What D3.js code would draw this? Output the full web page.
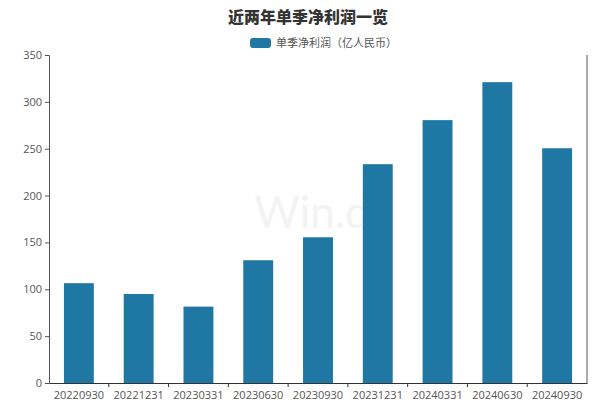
<!DOCTYPE html>
<html><head><meta charset="utf-8">
<script src="https://cdn.jsdelivr.net/npm/d3@7"></script>
<style>body{margin:0;background:#fff;}svg{display:block;font-family:"Noto Sans CJK SC","Noto Sans",sans-serif;}</style>
</head><body>
<svg id="c" width="613" height="415"></svg>
<script>
const categories = ["20220930","20221231","20230331","20230630","20230930","20231231","20240331","20240630","20240930"];
const values = [106.5, 95, 81.5, 131, 155.5, 233.5, 280.5, 321, 250.5];
const yTicks = [0,50,100,150,200,250,300,350];
const title = "近两年单季净利润一览";
const seriesName = "单季净利润（亿人民币）";

const svg = d3.select("#c");
const m = {l:49, r:587, t:55, b:383};
const color = "#1f77a4";
const x = d3.scaleBand().domain(categories).range([m.l, m.r]).paddingInner(0.5).paddingOuter(0.25);
const xb = d3.scaleBand().domain(categories).range([m.l, m.r]);
const y = d3.scaleLinear().domain([0,350]).range([m.b, m.t]);

// watermark
svg.append("text").attr("x",312).attr("y",228).attr("text-anchor","middle")
  .attr("font-family","Lato, sans-serif").attr("font-size",44).attr("fill","#f3f3f3").text("Win.d");

svg.append("text").attr("x",308).attr("y",23).attr("text-anchor","middle")
  .attr("font-size",16).attr("font-weight",900).attr("fill","#333").text(title);

svg.append("rect").attr("x",250).attr("y",38).attr("width",21).attr("height",10).attr("rx",3).attr("fill",color);
svg.append("text").attr("x",276).attr("y",47).attr("font-size",11).attr("fill","#555").text(seriesName);

svg.selectAll("rect.bar").data(values).join("rect").attr("class","bar")
  .attr("x",(d,i)=>x(categories[i])).attr("width",x.bandwidth())
  .attr("y",d=>y(d)).attr("height",d=>y(0)-y(d)).attr("fill",color);

const ya = svg.append("g").attr("transform",`translate(${m.l},0)`)
  .call(d3.axisLeft(y).tickValues(yTicks).tickSize(4).tickPadding(3));
ya.select(".domain").attr("stroke","#555");
ya.selectAll("line").attr("stroke","#555");
ya.selectAll("text").attr("font-size",11).attr("fill","#555").attr("font-family","'Open Sans',sans-serif");

const xa = svg.append("g").attr("transform",`translate(0,${m.b})`)
  .call(d3.axisBottom(xb).tickSize(0).tickPadding(8));
xa.select(".domain").attr("stroke","#333");
xa.selectAll("text").attr("font-size",11).attr("fill","#555").attr("font-family","'Open Sans',sans-serif");
// tick marks between categories
xa.selectAll("line.sep").data(categories.slice(1)).join("line").attr("class","sep")
  .attr("x1",d=>xb(d)).attr("x2",d=>xb(d)).attr("y1",0).attr("y2",4).attr("stroke","#333");

svg.append("line").attr("x1",m.r).attr("x2",m.r).attr("y1",m.t).attr("y2",m.b).attr("stroke","#555");
</script>
</body></html>
